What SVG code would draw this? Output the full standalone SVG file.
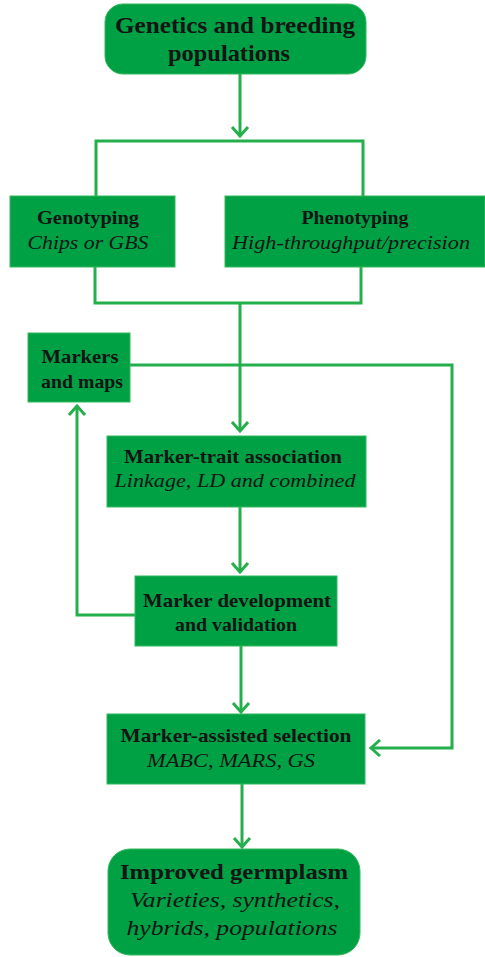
<svg xmlns="http://www.w3.org/2000/svg" width="485" height="957" viewBox="0 0 485 957">
  <style>
    .box { fill: #00a145; stroke: #33b85a; stroke-width: 1; }
    .link { fill: none; stroke: #25ae4c; stroke-width: 3; }
    .t { font-family: "Liberation Serif", "Times New Roman", serif; fill: #141414; text-anchor: middle; }
    .b { font-weight: bold; }
    .i { font-style: italic; }
  </style>
  <defs>
    <marker id="arrow" viewBox="-12 -10 14 20" markerWidth="14" markerHeight="20" refX="0" refY="0" orient="auto" markerUnits="userSpaceOnUse">
      <path d="M-9,-8 L0,0 L-9,8" fill="none" stroke="#25ae4c" stroke-width="3"/>
    </marker>
  </defs>
  <rect width="485" height="957" fill="#ffffff"/>

  <!-- connectors -->
  <g id="connectors" class="link">
    <path d="M240,74 V136" marker-end="url(#arrow)"/>
    <path d="M96,196 V141 H363 V196"/>
    <path d="M95,267 V303 H361 V267"/>
    <path d="M240,303 V431" marker-end="url(#arrow)"/>
    <path d="M130,365 H452 V748 H371" marker-end="url(#arrow)"/>
    <path d="M240,507 V572" marker-end="url(#arrow)"/>
    <path d="M135,615 H77 V406" marker-end="url(#arrow)"/>
    <path d="M241,646 V712" marker-end="url(#arrow)"/>
    <path d="M242,784 V847" marker-end="url(#arrow)"/>
  </g>

  <!-- nodes -->
  <g id="genetics">
    <rect class="box" x="105" y="4" width="261" height="70" rx="18"/>
    <text class="t b" x="235" y="33" font-size="23" textLength="240" lengthAdjust="spacingAndGlyphs">Genetics and breeding</text>
    <text class="t b" x="229" y="61" font-size="23" textLength="122" lengthAdjust="spacingAndGlyphs">populations</text>
  </g>

  <g id="genotyping">
    <rect class="box" x="10" y="196" width="165" height="71"/>
    <text class="t b" x="88" y="224" font-size="19" textLength="102" lengthAdjust="spacingAndGlyphs">Genotyping</text>
    <text class="t i" x="88" y="249" font-size="19" textLength="121" lengthAdjust="spacingAndGlyphs">Chips or GBS</text>
  </g>

  <g id="phenotyping">
    <rect class="box" x="225" y="196" width="260" height="71"/>
    <text class="t b" x="355" y="224" font-size="19" textLength="107" lengthAdjust="spacingAndGlyphs">Phenotyping</text>
    <text class="t i" x="351" y="249" font-size="19" textLength="238" lengthAdjust="spacingAndGlyphs">High-throughput/precision</text>
  </g>

  <g id="markers-maps">
    <rect class="box" x="28" y="333" width="102" height="69"/>
    <text class="t b" x="80" y="363" font-size="18" textLength="77" lengthAdjust="spacingAndGlyphs">Markers</text>
    <text class="t b" x="82" y="388" font-size="18" textLength="82" lengthAdjust="spacingAndGlyphs">and maps</text>
  </g>

  <g id="marker-trait">
    <rect class="box" x="107" y="436" width="259" height="71"/>
    <text class="t b" x="233" y="463" font-size="19" textLength="218" lengthAdjust="spacingAndGlyphs">Marker-trait association</text>
    <text class="t i" x="235" y="487" font-size="19" textLength="241" lengthAdjust="spacingAndGlyphs">Linkage, LD and combined</text>
  </g>

  <g id="marker-development">
    <rect class="box" x="135" y="576" width="202" height="70"/>
    <text class="t b" x="237" y="607" font-size="19" textLength="188" lengthAdjust="spacingAndGlyphs">Marker development</text>
    <text class="t b" x="236" y="631" font-size="19" textLength="122" lengthAdjust="spacingAndGlyphs">and validation</text>
  </g>

  <g id="mas">
    <rect class="box" x="107" y="714" width="258" height="70"/>
    <text class="t b" x="236" y="742" font-size="19" textLength="231" lengthAdjust="spacingAndGlyphs">Marker-assisted selection</text>
    <text class="t i" x="231" y="767" font-size="19" textLength="168" lengthAdjust="spacingAndGlyphs">MABC, MARS, GS</text>
  </g>

  <g id="germplasm">
    <rect class="box" x="108" y="849" width="252" height="106" rx="22"/>
    <text class="t b" x="234" y="879" font-size="22" textLength="228" lengthAdjust="spacingAndGlyphs">Improved germplasm</text>
    <text class="t i" x="235" y="907" font-size="22" textLength="210" lengthAdjust="spacingAndGlyphs">Varieties, synthetics,</text>
    <text class="t i" x="232" y="935" font-size="22" textLength="211" lengthAdjust="spacingAndGlyphs">hybrids, populations</text>
  </g>
</svg>
